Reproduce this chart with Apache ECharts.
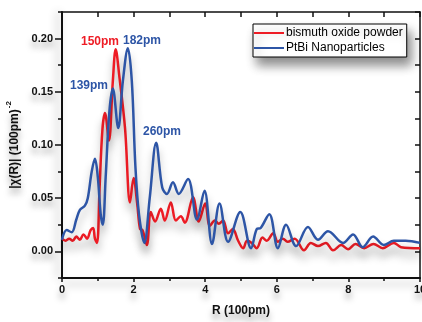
<!DOCTYPE html>
<html>
<head>
<meta charset="utf-8">
<script src="https://cdn.jsdelivr.net/npm/echarts@6/dist/echarts.min.js"></script>
<style>
  html, body { margin: 0; padding: 0; background: #fff; }
  #chart { width: 422px; height: 322px; }
</style>
</head>
<body>
<div id="chart"></div>
<script>
// R in units of 100 pm, |chi(R)| in (100pm)^-2
const redR = [0, 0.1, 0.2, 0.3, 0.4, 0.5, 0.6, 0.7, 0.8, 0.87, 0.92, 0.98, 1.05, 1.13, 1.2, 1.31, 1.42, 1.5, 1.6, 1.76, 1.9, 2.0, 2.1, 2.18, 2.25, 2.37, 2.48, 2.6, 2.76, 2.87, 3.04, 3.18, 3.32, 3.43, 3.66, 3.82, 4.0, 4.13, 4.27, 4.38, 4.5, 4.64, 4.77, 4.92, 5.06, 5.17, 5.3, 5.44, 5.6, 5.72, 5.9, 6.03, 6.17, 6.3, 6.5, 6.76, 6.95, 7.15, 7.37, 7.57, 7.8, 7.99, 8.2, 8.44, 8.7, 8.96, 9.27, 9.47, 10]
const redChi = [0.012, 0.010, 0.012, 0.010, 0.014, 0.011, 0.016, 0.012, 0.020, 0.022, 0.012, 0.008, 0.060, 0.115, 0.130, 0.104, 0.160, 0.190, 0.165, 0.116, 0.046, 0.069, 0.045, 0.021, 0.020, 0.006, 0.037, 0.028, 0.040, 0.029, 0.046, 0.029, 0.033, 0.027, 0.051, 0.028, 0.045, 0.024, 0.029, 0.026, 0.029, 0.017, 0.021, 0.010, 0.003, 0.010, 0.008, 0.003, 0.013, 0.010, 0.017, 0.009, 0.012, 0.009, 0.012, 0.001, 0.008, 0.005, 0.008, 0.001, 0.006, 0.002, 0.007, 0.003, 0.007, 0.003, 0.008, 0.004, 0.003]

const blueR = [0, 0.13, 0.27, 0.4, 0.5, 0.64, 0.72, 0.83, 0.92, 1.0, 1.08, 1.14, 1.22, 1.32, 1.42, 1.57, 1.7, 1.84, 1.95, 2.05, 2.15, 2.3, 2.45, 2.63, 2.8, 2.93, 3.1, 3.26, 3.52, 3.77, 3.98, 4.19, 4.4, 4.64, 4.98, 5.28, 5.44, 5.55, 5.79, 6.03, 6.26, 6.54, 6.87, 7.15, 7.43, 7.85, 8.13, 8.4, 8.69, 8.99, 9.27, 9.6, 10]
const blueChi = [0.011, 0.020, 0.018, 0.030, 0.039, 0.043, 0.050, 0.075, 0.087, 0.070, 0.035, 0.025, 0.070, 0.130, 0.153, 0.116, 0.160, 0.191, 0.160, 0.080, 0.035, 0.008, 0.050, 0.102, 0.060, 0.054, 0.065, 0.054, 0.068, 0.030, 0.057, 0.007, 0.045, 0.009, 0.037, 0.003, 0.021, 0.022, 0.035, 0.003, 0.025, 0.005, 0.023, 0.011, 0.019, 0.008, 0.016, 0.004, 0.014, 0.006, 0.010, 0.010, 0.008]

const seriesNames = ["bismuth oxide powder", "PtBi Nanoparticles"]
const yMajorTicks = [0, 0.05, 0.1, 0.15, 0.2]

const RED = "#ee1c25"
const BLUE = "#2d55a6"
const FONT = "Liberation Sans"

function pairs(xs, ys) {
    return xs.map(function (x, i) { return [x, ys[i]] })
}

const shadowText = {
    textShadowColor: "rgba(0,0,0,0.35)",
    textShadowBlur: 6,
    textShadowOffsetY: 6
}

function peakLabel(text, x, y, color) {
    return {
        type: "text", x: x, y: y,
        style: {
            text: text, fill: color, font: "bold 12px " + FONT, align: "center", verticalAlign: "middle",
            shadowColor: "rgba(0,0,0,0.3)", shadowBlur: 6, shadowOffsetY: 6
        }
    }
}

const chart = echarts.init(document.getElementById("chart"))

const option = {
    animation: false,
    backgroundColor: "#fff",
    grid: { left: 62, right: 2, top: 12, bottom: 44, outerBoundsMode: "none", containLabel: false },
    legend: {
        orient: "vertical",
        left: 253,
        top: 24,
        padding: [3, 4, 3, 1],
        itemGap: 3,
        itemWidth: 30,
        itemHeight: 2,
        icon: "rect",
        backgroundColor: "#fff",
        borderColor: "#000",
        borderWidth: 1,
        borderRadius: 0,
        shadowColor: "rgba(0,0,0,0.45)",
        shadowBlur: 10,
        shadowOffsetX: 4,
        shadowOffsetY: 8,
        textStyle: { fontFamily: FONT, fontSize: 12, color: "#000", padding: [0, 0, 0, -3] },
        data: seriesNames
    },
    xAxis: [{
        type: "value",
        min: 0,
        max: 10,
        interval: 2,
        name: "R (100pm)",
        nameLocation: "middle",
        nameGap: 27,
        nameTextStyle: Object.assign({ fontFamily: FONT, fontSize: 12, fontWeight: "bold", color: "#111" }, shadowText),
        axisLine: { show: true, onZero: false, lineStyle: { color: "#111", width: 2, shadowColor: "rgba(0,0,0,0.3)", shadowBlur: 8, shadowOffsetY: 6 } },
        axisTick: { inside: false, length: 4, lineStyle: { color: "#111", width: 1.5 } },
        minorTick: { show: true, splitNumber: 2, length: 3, lineStyle: { color: "#111", width: 1.5 } },
        axisLabel: Object.assign({ fontFamily: FONT, fontSize: 11, fontWeight: "bold", color: "#111", margin: 6 }, shadowText),
        splitLine: { show: false }
    }, {
        type: "value",
        position: "top",
        min: 0,
        max: 10,
        interval: 1,
        axisLine: { show: true, onZero: false, lineStyle: { color: "#111", width: 1.5 } },
        axisTick: { inside: true, length: 5, lineStyle: { color: "#111", width: 1.5 } },
        axisLabel: { show: false },
        splitLine: { show: false }
    }],
    yAxis: [{
        type: "value",
        min: -0.025,
        max: 0.225,
        interval: 0.025,
        name: "{m||χ(R)| (100pm)}{s|-2}",
        nameLocation: "middle",
        nameGap: 36,
        nameTextStyle: {
            rich: {
                m: Object.assign({ fontFamily: FONT, fontSize: 12, fontWeight: "bold", color: "#111" }, shadowText),
                s: { fontFamily: FONT, fontSize: 8, fontWeight: "bold", color: "#111", verticalAlign: "bottom", padding: [0, 0, 12, 1] }
            }
        },
        axisLine: { show: true, onZero: false, lineStyle: { color: "#111", width: 2, shadowColor: "rgba(0,0,0,0.3)", shadowBlur: 8, shadowOffsetX: -4 } },
        axisTick: { inside: false, length: 4, lineStyle: { color: "#111", width: 1.5 } },
        axisLabel: Object.assign({
            fontFamily: FONT, fontSize: 11, fontWeight: "bold", color: "#111", margin: 9,
            formatter: function (v) {
                return yMajorTicks.some(function (t) { return Math.abs(t - v) < 1e-9 }) ? v.toFixed(2) : ""
            }
        }, shadowText),
        splitLine: { show: false }
    }, {
        type: "value",
        position: "right",
        min: -0.025,
        max: 0.225,
        interval: 0.025,
        axisLine: { show: true, onZero: false, lineStyle: { color: "#111", width: 1.5 } },
        axisTick: { inside: true, length: 5, lineStyle: { color: "#111", width: 1.5 } },
        axisLabel: { show: false },
        splitLine: { show: false }
    }, {
        type: "value",
        position: "left",
        min: -0.025,
        max: 0.225,
        axisLine: { show: false, onZero: false },
        axisTick: { show: true, inside: false, length: 7, customValues: yMajorTicks, lineStyle: { color: "#111", width: 1.5 } },
        axisLabel: { show: false },
        splitLine: { show: false }
    }],
    series: [{
        name: seriesNames[0],
        type: "line",
        data: pairs(redR, redChi),
        smooth: 0.35,
        showSymbol: false,
        symbol: "none",
        color: RED,
        lineStyle: { color: RED, width: 2.5, shadowColor: "rgba(0,0,0,0.3)", shadowBlur: 8, shadowOffsetY: 8 },
        z: 3
    }, {
        name: seriesNames[1],
        type: "line",
        data: pairs(blueR, blueChi),
        smooth: 0.35,
        showSymbol: false,
        symbol: "none",
        color: BLUE,
        lineStyle: { color: BLUE, width: 2.5, shadowColor: "rgba(0,0,0,0.3)", shadowBlur: 8, shadowOffsetY: 8 },
        z: 4
    }],
    graphic: [
        peakLabel("150pm", 100, 42, RED),
        peakLabel("182pm", 142, 41, BLUE),
        peakLabel("139pm", 89, 86, BLUE),
        peakLabel("260pm", 162, 132, BLUE)
    ]
}

chart.setOption(option)
</script>
</body>
</html>
